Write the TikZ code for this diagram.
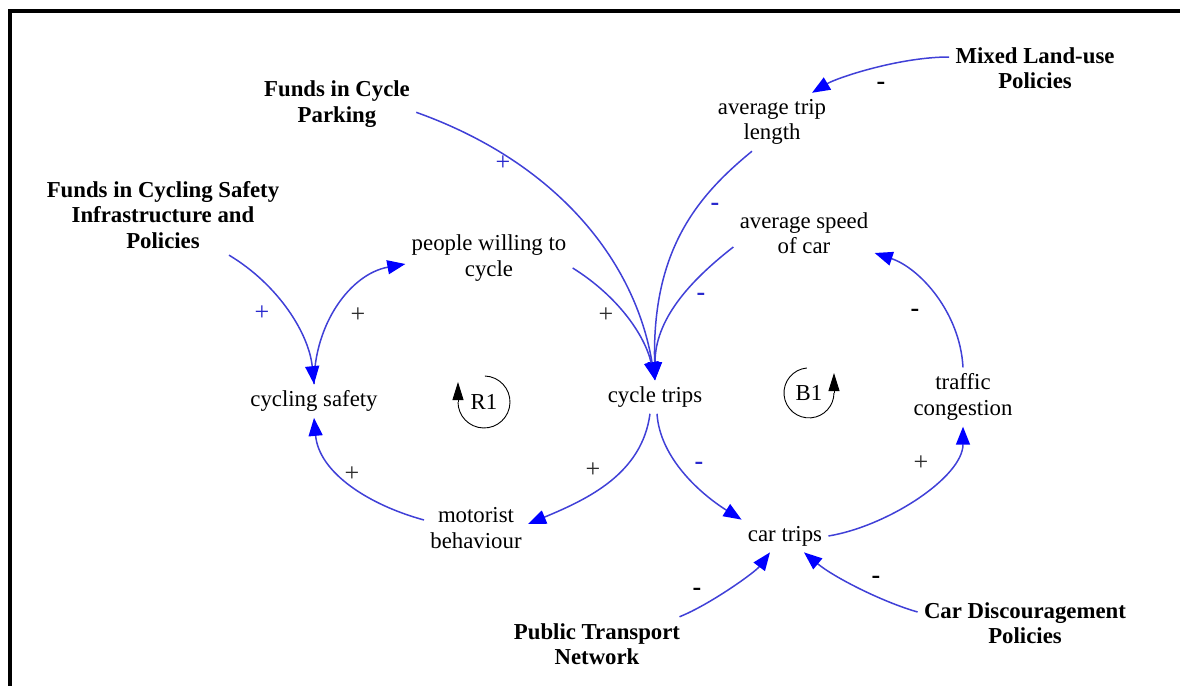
\documentclass[tikz,border=0pt]{standalone}
\usepackage{fontspec}
\setmainfont{Liberation Serif}
\usetikzlibrary{arrows.meta}
\definecolor{linkblue}{RGB}{64,64,215}
\definecolor{tipblue}{RGB}{0,0,255}
\definecolor{signblue}{RGB}{40,40,205}
\definecolor{signgray}{RGB}{45,45,45}

\begin{document}
\begin{tikzpicture}[x=0.5pt,y=-0.5pt,
  var/.style={font=\fontsize{11.4}{12.8}\selectfont, align=center, inner sep=3pt},
  ext/.style={font=\fontsize{11.4}{12.8}\selectfont\bfseries, align=center, inner sep=3pt},
  link/.style={draw=linkblue, line width=0.75pt,
    -{Triangle[length=9pt,width=7pt,color=tipblue]}},
  loopline/.style={draw=black, line width=0.45pt},
  looptip/.style={-{Triangle[length=9pt,width=5.5pt]}, line width=0.45pt},
  signp/.style={font=\fontsize{13}{14}\selectfont, inner sep=0pt},
  signm/.style={font=\fontsize{13}{14}\selectfont\bfseries, inner sep=0pt},
]
\path[use as bounding box] (0,0) rectangle (1180,686);

% frame
\draw[line width=1.8pt] (10,686) -- (10,11) -- (1180,11);

% exogenous inputs
\node[ext] (fcp) at (337,104) {Funds in Cycle\\Parking};
\node[ext] (fcs) at (163,215) {Funds in Cycling Safety\\Infrastructure and\\Policies};
\node[ext] (mlu) at (1035,68) {Mixed Land-use\\Policies};
\node[ext] (ptn) at (597,644) {Public Transport\\Network};
\node[ext] (cdp) at (1025,623) {Car Discouragement\\Policies};

% system variables
\node[var] (atl) at (772,122) {average trip\\length};
\node[var] (asc) at (804,233) {average speed\\of car};
\node[var] (pwc) at (489,258) {people willing to\\cycle};
\node[var] (cs)  at (314,401) {cycling safety};
\node[var] (ct)  at (655,397) {cycle trips};
\node[var] (tc)  at (963,397) {traffic\\congestion};
\node[var] (mb)  at (476,528) {motorist\\behaviour};
\node[var] (car) at (785,536) {car trips};

% loop markers
\node[var] (r1) at (484,402) {R1};
\node[var] (b1) at (809,393) {B1};
\draw[loopline] ([shift={(0.9,-26)}]r1.center) arc[start angle=88, end angle=-180, radius=13pt];
\draw[looptip] ([shift={(-26,0)}]r1.center) -- ++(0,-20);
\draw[loopline] ([shift={(-2.2,-25)}]b1.center) arc[start angle=95, end angle=360, radius=12.5pt];
\draw[looptip] ([shift={(25,0)}]b1.center) -- ++(0,-20);

% causal links
\draw[link] (fcp.-6) .. controls +(140,50) and +(-20,-120) .. (ct.north);
\draw[link] ([xshift=-10pt]atl.south) .. controls +(-55,45) and +(-3,-130) .. (ct.north);
\draw[link] ([yshift=-7pt]asc.west) .. controls +(-45,35) and +(0,-60) .. (ct.north);
\draw[link] ([yshift=-5pt]pwc.east) .. controls +(45,28) and +(-10,-45) .. (ct.north);
\draw[link] (cs.north) .. controls +(0,-60) and +(-55,10) .. ([yshift=-3pt]pwc.west);
\draw[link] ([xshift=33pt]fcs.south) .. controls +(50,30) and +(-5,-50) .. (cs.north);
\draw[link] ([xshift=-2.5pt]ct.south) .. controls +(-8,60) and +(60,-25) .. ([yshift=2pt]mb.east);
\draw[link] ([yshift=4pt]mb.west) .. controls +(-55,-15) and +(5,55) .. (cs.south);
\draw[link] ([xshift=1pt]ct.south) .. controls +(3,45) and +(-40,-25) .. (car.north west);
\draw[link] (car.east) .. controls +(60,-10) and +(0,50) .. (tc.south);
\draw[link] (tc.north) .. controls +(-3,-55) and +(45,15) .. ([yshift=-10pt]asc.east);
\draw[link] ([yshift=5.5pt]mlu.west) .. controls +(-50,0) and +(25,-15) .. ([xshift=20pt]atl.north);
\draw[link] ([xshift=-3.5pt]ptn.north east) .. controls +(30,-12) and +(-15,20) .. ([xshift=-7.5pt]car.south);
\draw[link] ([yshift=5.5pt]cdp.west) .. controls +(-35,-10) and +(30,25) .. ([xshift=9.5pt]car.south);

% link polarities
\node[signp, text=signblue] (s1) at (503,163) {+};
\node[signm, text=signblue] (s2) at (715,207) {-};
\node[signm, text=signblue] (s3) at (701,297) {-};
\node[signp, text=signgray] (s4) at (606,315) {+};
\node[signp, text=signgray] (s5) at (358,315) {+};
\node[signp, text=signblue] (s6) at (262,313) {+};
\node[signp, text=signgray] (s7) at (593,470) {+};
\node[signp, text=signgray] (s8) at (352,474) {+};
\node[signm, text=signblue] (s9) at (699,466) {-};
\node[signp, text=signgray] (s10) at (921,463) {+};
\node[signm, text=black] (s11) at (915,313) {-};
\node[signm, text=black] (s12) at (881,86) {-};
\node[signm, text=black] (s13) at (697,592) {-};
\node[signm, text=black] (s14) at (876,580) {-};
\end{tikzpicture}
\end{document}
